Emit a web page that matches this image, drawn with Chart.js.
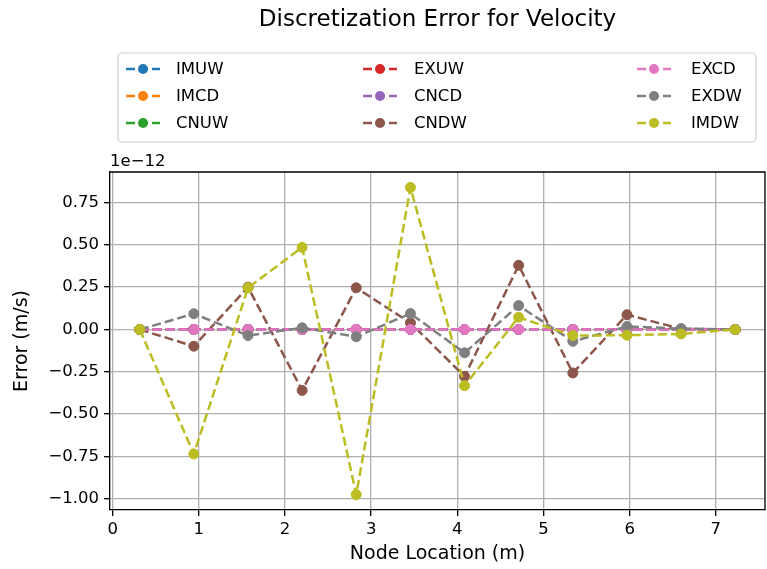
<!DOCTYPE html>
<html>
<head>
<meta charset="utf-8">
<script src="https://cdn.jsdelivr.net/npm/chart.js@4/dist/chart.umd.min.js"></script>
<style>
  html, body { margin: 0; padding: 0; background: #fff; }
  #wrap { width: 767px; height: 569px; }
</style>
</head>
<body>
<div id="wrap"><canvas id="chart" width="767" height="569"></canvas></div>
<script>
// ---- data (error values are in units of 1e-12 m/s) ----
const nodeX = [0.314, 0.942, 1.571, 2.199, 2.827, 3.456, 4.084, 4.712, 5.341, 5.969, 6.597, 7.226];
const xTicks = [0, 1, 2, 3, 4, 5, 6, 7];
const yTicks = [-1.00, -0.75, -0.50, -0.25, 0.00, 0.25, 0.50, 0.75];

const IMUW = [0, 0, 0, 0, 0, 0, 0, 0, 0, 0, 0, 0];
const IMCD = [0, 0, 0, 0, 0, 0, 0, 0, 0, 0, 0, 0];
const CNUW = [0, 0, 0, 0, 0, 0, 0, 0, 0, 0, 0, 0];
const EXUW = [0, 0, 0, 0, 0, 0, 0, 0, 0, 0, 0, 0];
const CNCD = [0, 0, 0, 0, 0, 0, 0, 0, 0, 0, 0, 0];
const CNDW = [0, -0.099, 0.25, -0.36, 0.246, 0.039, -0.277, 0.379, -0.257, 0.087, 0.004, 0];
const EXCD = [0, 0, 0, 0, 0, 0, 0, 0, 0, 0, 0, 0];
const EXDW = [0, 0.093, -0.036, 0.01, -0.043, 0.094, -0.138, 0.141, -0.07, 0.018, 0.005, 0];
const IMDW = [0, -0.735, 0.246, 0.485, -0.975, 0.839, -0.332, 0.072, -0.036, -0.034, -0.026, 0];

const seriesNames = ['IMUW', 'IMCD', 'CNUW', 'EXUW', 'CNCD', 'CNDW', 'EXCD', 'EXDW', 'IMDW'];
const seriesValues = [IMUW, IMCD, CNUW, EXUW, CNCD, CNDW, EXCD, EXDW, IMDW];
const seriesColors = ['#1f77b4', '#ff7f0e', '#2ca02c', '#d62728', '#9467bd', '#8c564b', '#e377c2', '#7f7f7f', '#bcbd22'];

const FONT = "'DejaVu Sans', sans-serif";
const DASH = [9, 4];

const datasets = seriesNames.map((name, i) => ({
  label: name,
  data: nodeX.map((x, j) => ({ x, y: seriesValues[i][j] })),
  borderColor: seriesColors[i],
  backgroundColor: seriesColors[i],
  borderWidth: 2.5,
  borderDash: DASH,
  pointRadius: 5,
  pointHoverRadius: 5,
  pointBorderWidth: 1,
  pointBorderColor: seriesColors[i],
  pointBackgroundColor: seriesColors[i],
  tension: 0,
  fill: false,
  order: seriesNames.length - i, // later series drawn on top, like matplotlib
}));

// legend box, spines and offset label drawn on the canvas
const extras = {
  id: 'extras',
  afterDraw(chart) {
    const c = chart.ctx, a = chart.chartArea;
    c.save();
    // top / right spines
    c.strokeStyle = '#000';
    c.lineWidth = 1.33;
    c.beginPath();
    c.moveTo(a.left, a.top); c.lineTo(a.right, a.top); c.lineTo(a.right, a.bottom);
    c.stroke();
    // offset text
    c.fillStyle = '#000';
    c.font = `16.5px ${FONT}`;
    c.textAlign = 'left';
    c.textBaseline = 'alphabetic';
    c.fillText('1e\u221212', a.left, 166);
    // legend frame
    const bx = 118, by = 53, bw = 638, bh = 89, r = 4;
    c.beginPath();
    c.roundRect(bx, by, bw, bh, r);
    c.fillStyle = 'rgba(255,255,255,0.8)';
    c.fill();
    c.strokeStyle = '#d0d0d0';
    c.lineWidth = 1.2;
    c.stroke();
    // legend entries, filled column by column
    const colLine = [126, 363, 637], colText = [176, 414, 691], rowY = [69, 96, 123];
    chart.data.datasets.forEach((ds, i) => {
      const col = Math.floor(i / 3), row = i % 3;
      const x0 = colLine[col], y = rowY[row];
      c.strokeStyle = ds.borderColor;
      c.lineWidth = 2.5;
      c.setLineDash(DASH);
      c.beginPath(); c.moveTo(x0, y); c.lineTo(x0 + 34, y); c.stroke();
      c.setLineDash([]);
      c.fillStyle = ds.borderColor;
      c.beginPath(); c.arc(x0 + 17, y, 5, 0, Math.PI * 2); c.fill();
      c.fillStyle = '#000';
      c.font = `16.5px ${FONT}`;
      c.textBaseline = 'middle';
      c.fillText(ds.label, colText[col], y + 1);
    });
    c.restore();
  }
};

const fmt = v => v.toFixed(2).replace('-', '\u2212');

new Chart(document.getElementById('chart'), {
  type: 'line',
  data: { datasets },
  plugins: [extras],
  options: {
    responsive: false,
    animation: false,
    events: [],
    layout: { autoPadding: false, padding: { left: 0, right: 2, top: 0, bottom: 0 } },
    scales: {
      x: {
        type: 'linear',
        min: -0.031, max: 7.571,
        afterBuildTicks: s => { s.ticks = xTicks.map(v => ({ value: v })); },
        afterFit: s => { s.height = 59; s.paddingLeft = 0; s.paddingRight = 0; },
        grid: { color: '#b0b0b0', lineWidth: 1.33, tickColor: '#000', tickLength: 6, drawTicks: true },
        border: { color: '#000', width: 1.33 },
        ticks: { color: '#000', font: { family: FONT, size: 16.5 }, padding: 4, maxRotation: 0,
                 callback: v => String(v) },
        title: { display: true, text: 'Node Location (m)', color: '#000',
                 font: { family: FONT, size: 19 }, padding: { top: 0, bottom: 4 } },
      },
      y: {
        type: 'linear',
        min: -1.066, max: 0.930,
        afterBuildTicks: s => { s.ticks = yTicks.map(v => ({ value: v })); },
        afterFit: s => { s.width = 110; s.paddingTop = 0; s.paddingBottom = 0; },
        grid: { color: '#b0b0b0', lineWidth: 1.33, tickColor: '#000', tickLength: 6, drawTicks: true },
        border: { color: '#000', width: 1.33 },
        ticks: { color: '#000', font: { family: FONT, size: 16.5 }, padding: 5, callback: v => fmt(v) },
        title: { display: true, text: 'Error (m/s)', color: '#000',
                 font: { family: FONT, size: 19 }, padding: { top: 11, bottom: 0 } },
      },
    },
    plugins: {
      legend: { display: false },
      tooltip: { enabled: false },
      title: {
        display: true, fullSize: false,
        text: 'Discretization Error for Velocity',
        color: '#000', font: { family: FONT, size: 23, weight: 'normal' },
        padding: { top: 6, bottom: 138.4 },
      },
    },
  },
});
</script>
</body>
</html>
